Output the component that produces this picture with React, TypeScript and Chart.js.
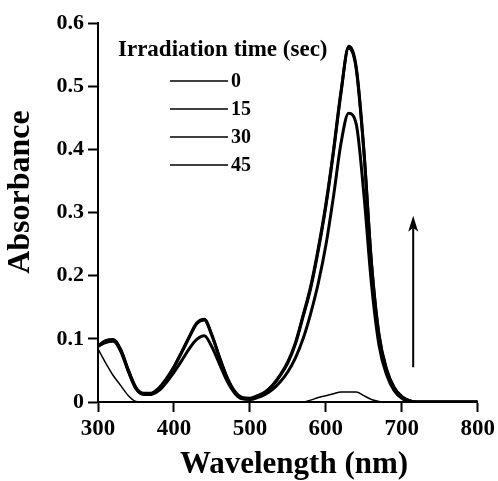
import React, { useEffect, useRef } from 'react';
import { Chart, registerables } from 'chart.js';

Chart.register(...registerables);

// ---- data ----
const wavelengths = [
  300, 310, 320, 330, 340, 350, 360, 370, 380, 390,
  400, 410, 420, 430, 440, 450, 460, 470, 480, 490,
  500, 510, 520, 530, 540, 550, 560, 570, 580, 590,
  600, 610, 620, 630, 640, 650, 660, 670, 680, 690,
  700, 710, 720, 730, 740, 750, 760, 770, 780, 790, 800,
];

const abs0 = [
  0.084, 0.062, 0.042, 0.026, 0.01, 0.001, 0, 0, 0, 0,
  0, 0, 0, 0, 0, 0, 0, 0, 0, 0,
  0, 0, 0, 0, 0, 0, 0, 0, 0.003, 0.007,
  0.01, 0.013, 0.016, 0.016, 0.016, 0.01, 0.004, 0.001, 0, 0,
  0, 0, 0, 0, 0, 0, 0, 0, 0, 0, 0,
];

const abs15 = [
  0.088, 0.094, 0.096, 0.08, 0.048, 0.021, 0.012, 0.012, 0.018, 0.031,
  0.047, 0.065, 0.084, 0.099, 0.105, 0.087, 0.06, 0.033, 0.014, 0.005,
  0.004, 0.007, 0.012, 0.02, 0.032, 0.048, 0.07, 0.1, 0.14, 0.188,
  0.248, 0.325, 0.41, 0.457, 0.44, 0.33, 0.188, 0.09, 0.043, 0.018,
  0.006, 0.001, 0, 0, 0, 0, 0, 0, 0, 0, 0,
];

const abs30 = [
  0.089, 0.097, 0.099, 0.083, 0.05, 0.023, 0.014, 0.014, 0.022, 0.037,
  0.056, 0.079, 0.103, 0.125, 0.131, 0.106, 0.071, 0.039, 0.017, 0.007,
  0.006, 0.01, 0.016, 0.027, 0.043, 0.064, 0.094, 0.137, 0.183, 0.243,
  0.313, 0.398, 0.492, 0.56, 0.527, 0.398, 0.222, 0.107, 0.052, 0.023,
  0.009, 0.002, 0, 0, 0, 0, 0, 0, 0, 0, 0,
];

const abs45 = [
  0.088, 0.096, 0.098, 0.082, 0.05, 0.022, 0.013, 0.013, 0.021, 0.036,
  0.055, 0.078, 0.102, 0.124, 0.13, 0.105, 0.07, 0.038, 0.016, 0.006,
  0.005, 0.009, 0.015, 0.026, 0.042, 0.062, 0.092, 0.135, 0.18, 0.24,
  0.31, 0.395, 0.49, 0.563, 0.53, 0.4, 0.22, 0.105, 0.05, 0.022,
  0.008, 0.002, 0, 0, 0, 0, 0, 0, 0, 0, 0,
];

const seriesLabels = ['0', '15', '30', '45'];
const seriesValues = [abs0, abs15, abs30, abs45];
const seriesWidths = [1.5, 3, 3, 3];

const xMin = 300;
const xMax = 800;
const xStep = 100;
const yMin = 0;
const yMax = 0.6;
const yStep = 0.1;

const legendTitle = 'Irradiation time (sec)';
const xTitle = 'Wavelength (nm)';
const yTitle = 'Absorbance';

// arrow showing the increase (wavelength, from absorbance, to absorbance)
const arrowWavelength = 715;
const arrowFrom = 0.055;
const arrowTo = 0.295;

const FONT = '"Liberation Serif", "Times New Roman", serif';

const overlayPlugin = {
  id: 'overlay',
  afterDraw(chart: any) {
    const ctx = chart.ctx;
    const area = chart.chartArea;
    const xs = chart.scales.x;
    const ys = chart.scales.y;
    ctx.save();
    ctx.fillStyle = '#000';
    ctx.strokeStyle = '#000';

    // axis titles
    ctx.font = `bold 31px ${FONT}`;
    ctx.textAlign = 'center';
    ctx.textBaseline = 'middle';
    ctx.fillText(xs.options.title.text, area.left + 196, area.bottom + 63);
    ctx.save();
    ctx.translate(area.left - 77, area.top + 169);
    ctx.rotate(-Math.PI / 2);
    ctx.font = `bold 32px ${FONT}`;
    ctx.fillText(ys.options.title.text, 0, 0);
    ctx.restore();

    // legend
    ctx.font = `bold 23px ${FONT}`;
    ctx.textAlign = 'left';
    ctx.textBaseline = 'alphabetic';
    ctx.fillText(legendTitle, area.left + 20, area.top + 33);
    ctx.font = `bold 20px ${FONT}`;
    ctx.textBaseline = 'middle';
    chart.data.datasets.forEach((ds: any, i: number) => {
      const y = area.top + 58 + i * 28;
      ctx.lineWidth = 1.5;
      ctx.beginPath();
      ctx.moveTo(area.left + 72, y);
      ctx.lineTo(area.left + 130, y);
      ctx.stroke();
      ctx.fillText(ds.label, area.left + 133, y + 1);
    });

    // arrow
    const ax = xs.getPixelForValue(arrowWavelength);
    const ay0 = ys.getPixelForValue(arrowFrom);
    const ay1 = ys.getPixelForValue(arrowTo);
    ctx.lineWidth = 2;
    ctx.beginPath();
    ctx.moveTo(ax, ay0);
    ctx.lineTo(ax, ay1 + 12);
    ctx.stroke();
    ctx.beginPath();
    ctx.moveTo(ax, ay1);
    ctx.lineTo(ax - 5, ay1 + 16);
    ctx.lineTo(ax, ay1 + 12);
    ctx.lineTo(ax + 5, ay1 + 16);
    ctx.closePath();
    ctx.fill();

    ctx.restore();
  },
};

export default function App() {
  const canvasRef = useRef<HTMLCanvasElement | null>(null);

  useEffect(() => {
    const canvas = canvasRef.current;
    if (!canvas) return;
    const datasets = seriesLabels.map((label, i) => ({
      label,
      data: wavelengths.map((w, j) => ({ x: w, y: seriesValues[i][j] })),
      borderColor: '#000',
      backgroundColor: '#000',
      borderWidth: seriesWidths[i],
      pointRadius: 0,
      fill: false,
      cubicInterpolationMode: 'monotone' as const,
    }));

    const chart = new Chart(canvas, {
      type: 'line',
      data: { datasets },
      options: {
        animation: false,
        responsive: false,
        maintainAspectRatio: false,
        layout: { padding: { top: 23, right: 19, left: 0, bottom: 0 } },
        plugins: {
          legend: { display: false },
          tooltip: { enabled: false },
        },
        scales: {
          x: {
            type: 'linear',
            min: xMin,
            max: xMax,
            title: { display: false, text: xTitle },
            ticks: {
              stepSize: xStep,
              color: '#000',
              font: { family: FONT, size: 23, weight: 'bold' as const },
              padding: 3,
              maxRotation: 0,
            },
            grid: {
              display: true,
              drawOnChartArea: false,
              drawTicks: true,
              tickLength: 10,
              tickWidth: 2,
              color: '#000',
            },
            border: { display: true, color: '#000', width: 2 },
            afterFit: (s: any) => {
              s.height = 79;
            },
          },
          y: {
            type: 'linear',
            min: yMin,
            max: yMax,
            title: { display: false, text: yTitle },
            ticks: {
              stepSize: yStep,
              color: '#000',
              font: { family: FONT, size: 22, weight: 'bold' as const },
              padding: 4,
              callback: (v: any) => (Number(v) === 0 ? '0' : Number(v).toFixed(1)),
            },
            grid: {
              display: true,
              drawOnChartArea: false,
              drawTicks: true,
              tickLength: 10,
              tickWidth: 2,
              color: '#000',
            },
            border: { display: true, color: '#000', width: 2 },
            afterFit: (s: any) => {
              s.width = 98;
            },
          },
        },
      },
      plugins: [overlayPlugin],
    });
    return () => chart.destroy();
  }, []);

  return (
    <div style={{ position: 'absolute', left: 0, top: 0, width: 498, height: 481, background: '#fff' }}>
      <canvas ref={canvasRef} width={498} height={481} style={{ display: 'block' }} />
    </div>
  );
}
